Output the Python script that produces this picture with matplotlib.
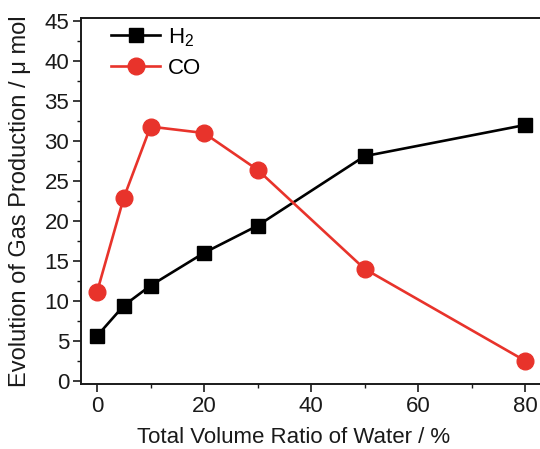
import matplotlib
matplotlib.use("Agg")
import matplotlib.pyplot as plt

plt.rcParams['font.family'] = ['Liberation Sans', 'DejaVu Sans']
plt.rcParams['mathtext.fontset'] = 'custom'
plt.rcParams['mathtext.rm'] = 'Liberation Sans'

water_ratio = [0, 5, 10, 20, 30, 50, 80]
h2_values = [5.6, 9.4, 11.9, 16.0, 19.4, 28.1, 32.0]
co_values = [11.1, 22.9, 31.8, 31.0, 26.4, 14.0, 2.5]
x_ticks = [0, 20, 40, 60, 80]
y_ticks = [0, 5, 10, 15, 20, 25, 30, 35, 40, 45]

red = '#e8332b'
ink = '#1a1a1a'

fig = plt.figure(figsize=(5.40, 4.49), dpi=100)
ax = fig.add_axes([0.15, 0.145, 0.85, 0.815])

ax.plot(water_ratio, h2_values, color='black', lw=1.9, marker='s', ms=10.5,
        label='H$_2$', zorder=3)
ax.plot(water_ratio, co_values, color=red, lw=1.9, marker='o', ms=12,
        label='CO', zorder=3)

ax.set_xlim(-3.0, 82.8)
ax.set_ylim(-0.4, 45.4)
ax.set_xticks(x_ticks)
ax.set_yticks(y_ticks)
ax.set_xticks([10, 30, 50, 70], minor=True)
ax.set_yticks([2.5 + 5 * i for i in range(9)], minor=True)

ax.spines['right'].set_visible(False)
for s in ['left', 'bottom', 'top']:
    ax.spines[s].set_linewidth(1.4)
    ax.spines[s].set_color(ink)

ax.tick_params(axis='both', which='major', direction='out', length=5.5, width=1.2,
               labelsize=16, colors=ink, pad=3)
ax.tick_params(axis='both', which='minor', direction='out', length=3, width=1.0,
               colors=ink)
ax.tick_params(top=False, right=False, which='both')

ax.set_xlabel('Total Volume Ratio of Water / %', fontsize=16, color=ink)
ax.xaxis.set_label_coords(0.464, -0.118)
ax.set_ylabel('Evolution of Gas Production / μ mol', fontsize=17, color=ink)
ax.yaxis.set_label_coords(-0.11, 0.5)

ax.legend(loc='upper left', bbox_to_anchor=(0.022, 1.032), frameon=False,
          fontsize=16, handlelength=2.2, labelspacing=0.42, handletextpad=0.35)

fig.savefig('out.png', dpi=100)
